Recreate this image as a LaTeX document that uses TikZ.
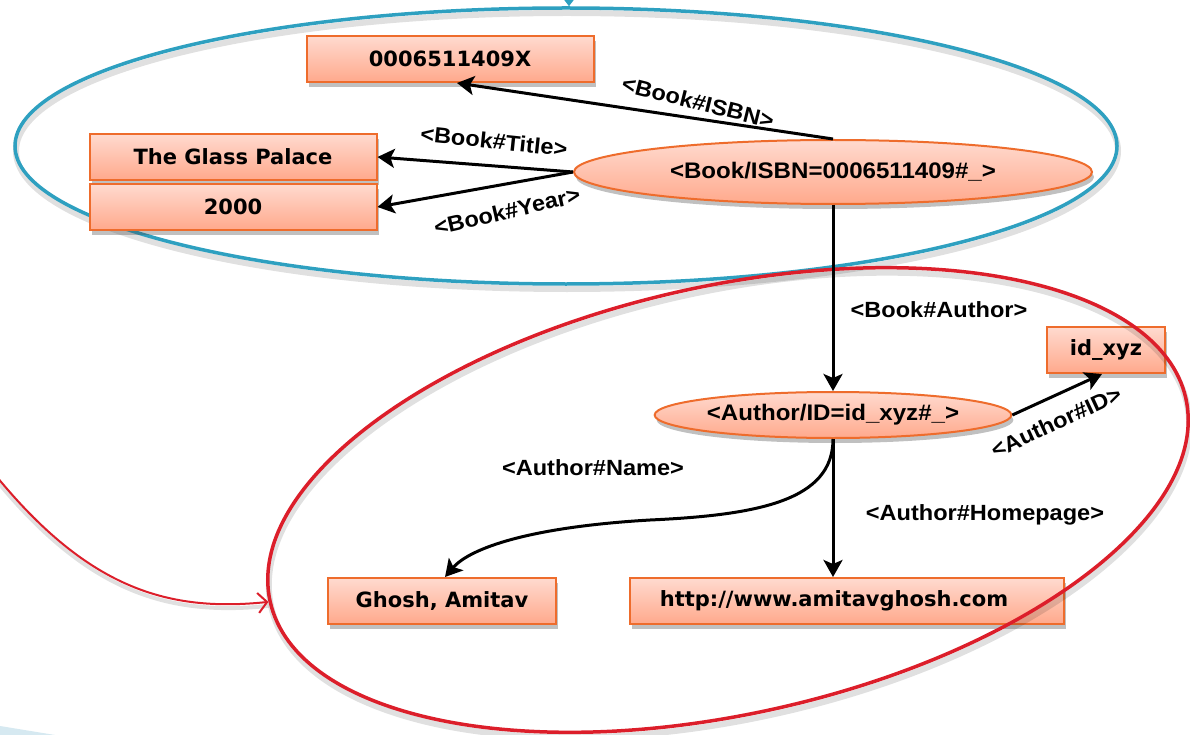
\documentclass[tikz,border=0pt]{standalone}
\usepackage{fontspec}
\setmainfont{Liberation Sans}[FakeStretch=1.07]
\newfontfamily\valfont{DejaVu Sans}
\usetikzlibrary{shapes.geometric,shadows,arrows.meta,calc}

\definecolor{boxedge}{HTML}{EE6C2C}
\definecolor{boxtop}{HTML}{FFDACF}
\definecolor{boxbot}{HTML}{FFA98C}
\definecolor{grpblue}{HTML}{2EA0C0}
\definecolor{grpred}{HTML}{DC1E2A}
\definecolor{paleblue}{HTML}{D6E9F1}

\tikzset{
  softshadow/.style={drop shadow={shadow xshift=2pt,shadow yshift=-5pt,opacity=0.35,fill=black!70}},
  litbox/.style={draw=boxedge,line width=2pt,top color=boxtop,bottom color=boxbot,
    minimum height=46pt,inner sep=0pt,softshadow,
    font=\valfont\bfseries\fontsize{21}{25}\selectfont},
  resell/.style={ellipse,draw=boxedge,line width=2pt,top color=boxtop,bottom color=boxbot,
    inner sep=0pt,softshadow,font=\bfseries\fontsize{22.5}{26}\selectfont},
  prop/.style={inner sep=1pt,font=\bfseries\fontsize{22}{26}\selectfont},
  link/.style={line width=3pt,-{Stealth[length=17pt,width=19pt,inset=4pt]}},
  grpline/.style={ellipse,line width=3.5pt,inner sep=0pt},
  grpshade/.style={ellipse,draw=black,opacity=0.12,line width=6pt,inner sep=0pt},
  redlink/.style={draw=grpred,line width=2pt,-{Straight Barb[length=9pt,width=20pt,line width=2pt]}},
}

\begin{document}
\begin{tikzpicture}[x=1pt,y=-1pt]
  \fill[white] (0,0) rectangle (1190,735);
  \useasboundingbox (0,0) rectangle (1190,735);
  \fill[paleblue] (0,726) -- (55,735) -- (0,735) -- cycle;

  % group of the book resource
  \node[grpshade,minimum width=1102pt,minimum height=276pt] at (567,151) {};
  \node[grpline,draw=grpblue,minimum width=1102pt,minimum height=276pt] (grpbook) at (566,146) {};
  \coordinate (bluefrom) at (569,-30);
  \draw[grpblue,line width=3pt,-{Triangle[length=9pt,width=13pt]}] (bluefrom) -- ([xshift=3pt]grpbook.north);

  % literal values and resources
  \node[litbox,minimum width=287pt] (isbn) at (450,59) {0006511409X};
  \node[litbox,minimum width=287pt] (title) at (233,157) {The Glass Palace};
  \node[litbox,minimum width=287pt] (year) at (233,207) {2000};
  \node[resell,minimum width=518pt,minimum height=64pt] (book) at (833,172) {<Book/ISBN=0006511409\#\_>};
  \node[resell,minimum width=318pt,minimum height=46pt] (author) at (833,415) {<Author/ID=id\_xyz\#\_>};
  \node[litbox,minimum width=118pt] (idv) at (1106,350) {id\_xyz};
  \node[litbox,minimum width=228pt] (name) at (442,601) {Ghosh, Amitav};
  \node[litbox,minimum width=434pt] (home) at (847,601) {http://www.amitavghosh.com\kern26pt\relax};

  % group of the author resource
  \node[grpshade,rotate=12.5,minimum width=938pt,minimum height=428pt] at (729,505) {};
  \node[grpline,draw=grpred,rotate=12.5,minimum width=938pt,minimum height=428pt] (grpauthor) at (728,500) {};
  \coordinate (redfrom) at (-3,477);
  \draw[black,opacity=0.12,line width=4pt] ([yshift=-4pt]redfrom) .. controls (90,594) and (170,616) .. ([yshift=-4pt]grpauthor.west);
  \draw[redlink] (redfrom) .. controls (90,590) and (170,612) .. (grpauthor.west);

  % properties
  \draw[link] (book.north) -- ([xshift=7pt]isbn.south);
  \draw[link] (book.west) -- (title.east);
  \draw[link] (book.west) -- (year.east);
  \draw[link] (book.south) -- (author.north);
  \draw[link] (author.east) -- ([xshift=-4pt]idv.south);
  \draw[link] (author.south) -- (author.south |- home.north);
  \coordinate (namebend) at (650,520);
  \draw[link] (author.south) .. controls (833,500) and (760,515) .. (namebend)
    .. controls (530,527) and (470,548) .. ([xshift=3pt]name.north);

  \node[prop,rotate=-14] (lisbn) at (698,102) {<Book\#ISBN>};
  \node[prop,rotate=-6] (ltitle) at (494,141) {<Book\#Title>};
  \node[prop,rotate=13] (lyear) at (507,211) {<Book\#Year>};
  \node[prop] (lauthor) at (939,310) {<Book\#Author>};
  \node[prop,rotate=25] (lid) at (1056,422) {<Author\#ID>};
  \node[prop] (lname) at (593,468) {<Author\#Name>};
  \node[prop] (lhome) at (985,515) {<Author\#Homepage>};
\end{tikzpicture}
\end{document}
